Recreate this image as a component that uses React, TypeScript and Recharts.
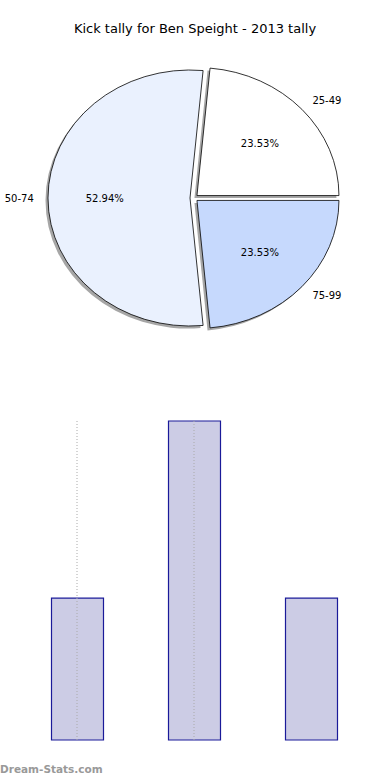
import React from 'react';
import { PieChart, Pie, BarChart, Bar, XAxis, YAxis, ReferenceLine } from 'recharts';

const categories = ['25-49', '50-74', '75-99'];
const kicks = [4, 9, 4];
const sliceColors = ['#ffffff', '#eaf1fe', '#c6d9fd'];

const pieData = categories.map((c, i) => ({ name: c, value: kicks[i], fill: sliceColors[i] }));
const barData = categories.map((c, i) => ({ name: c, kicks: kicks[i] }));

const FONT = '"DejaVu Sans", Verdana, sans-serif';
const RY_SCALE = 128 / 142; // matplotlib pie squashed by the figure aspect
const EXPLODE = 4;
const RAD = Math.PI / 180;

// elliptical, exploded wedge
function wedgePath(p: any, dx: number, dy: number) {
  const rx = p.outerRadius;
  const ry = rx * RY_SCALE;
  const mid = (p.startAngle + p.endAngle) / 2;
  const ox = p.cx + EXPLODE * Math.cos(mid * RAD) + dx;
  const oy = p.cy - EXPLODE * RY_SCALE * Math.sin(mid * RAD) + dy;
  const x1 = ox + rx * Math.cos(p.startAngle * RAD);
  const y1 = oy - ry * Math.sin(p.startAngle * RAD);
  const x2 = ox + rx * Math.cos(p.endAngle * RAD);
  const y2 = oy - ry * Math.sin(p.endAngle * RAD);
  const large = Math.abs(p.endAngle - p.startAngle) > 180 ? 1 : 0;
  return `M${ox},${oy} L${x1},${y1} A${rx},${ry} 0 ${large} 0 ${x2},${y2} Z`;
}

const ShadowShape = (p: any) => (
  <path d={wedgePath(p, -2.5, 2.5)} fill="#4d4d4d" fillOpacity={0.5} stroke="none" />
);

const SliceShape = (p: any) => (
  <path d={wedgePath(p, 0, 0)} fill={p.fill} stroke="#000" strokeWidth={0.8} />
);

const renderLabel = (p: any) => {
  const rx = p.outerRadius;
  const ry = rx * RY_SCALE;
  const mid = p.midAngle;
  const c = Math.cos(mid * RAD);
  const s = Math.sin(mid * RAD);
  const ox = p.cx + EXPLODE * c;
  const oy = p.cy - EXPLODE * RY_SCALE * s;
  return (
    <g>
      <text x={ox + 0.6 * rx * c} y={oy - 0.6 * ry * s} textAnchor="middle" dominantBaseline="central"
        fontSize={10} fontFamily={FONT} fill="#000">
        {(p.percent * 100).toFixed(2)}%
      </text>
      <text x={ox + 1.1 * rx * c} y={oy - 1.1 * ry * s} textAnchor={c >= 0 ? 'start' : 'end'}
        dominantBaseline="central" fontSize={10} fontFamily={FONT} fill="#000">
        {p.name}
      </text>
    </g>
  );
};

export default function App() {
  return (
    <div style={{ position: 'absolute', left: 0, top: 0, width: 390, height: 780, background: '#fff', overflow: 'hidden' }}>
      <div style={{ position: 'absolute', top: 21, left: 0, width: 390, textAlign: 'center', fontFamily: FONT, fontSize: 13, color: '#000' }}>
        Kick tally for Ben Speight - 2013 tally
      </div>

      <div style={{ position: 'absolute', left: 0, top: 0 }}>
        <PieChart width={390} height={350} margin={{ top: 0, right: 0, bottom: 0, left: 0 }}>
          {/* shadow layer */}
          <Pie data={pieData} dataKey="value" nameKey="name" cx={194} cy={198} outerRadius={142}
            startAngle={0} endAngle={360} isAnimationActive={false} labelLine={false}
            shape={ShadowShape} activeShape={ShadowShape} inactiveShape={ShadowShape} stroke="none" />
          <Pie data={pieData} dataKey="value" nameKey="name" cx={194} cy={198} outerRadius={142}
            startAngle={0} endAngle={360} isAnimationActive={false} labelLine={false} label={renderLabel}
            shape={SliceShape} activeShape={SliceShape} inactiveShape={SliceShape} />
        </PieChart>
      </div>

      <div style={{ position: 'absolute', left: 0, top: 400 }}>
        <BarChart width={390} height={360} data={barData} margin={{ top: 21, right: 20.5, bottom: 20, left: 18.5 }}
          barCategoryGap={0}>
          <XAxis dataKey="name" hide />
          <YAxis hide domain={[0, 9]} />
          <Bar dataKey="kicks" fill="#ccccE5" stroke="#1a1a99" strokeWidth={1.2} barSize={52} isAnimationActive={false} />
          <ReferenceLine segment={[{ x: '25-49', y: 0 }, { x: '25-49', y: 9 }]} stroke="#aaa" strokeDasharray="1 2" />
          <ReferenceLine segment={[{ x: '50-74', y: 0 }, { x: '50-74', y: 9 }]} stroke="#aaa" strokeDasharray="1 2" />
        </BarChart>
      </div>

      <div style={{ position: 'absolute', left: 0, top: 763, fontFamily: FONT, fontSize: 10.5, fontWeight: 'bold', color: '#999' }}>
        Dream-Stats.com
      </div>
    </div>
  );
}
